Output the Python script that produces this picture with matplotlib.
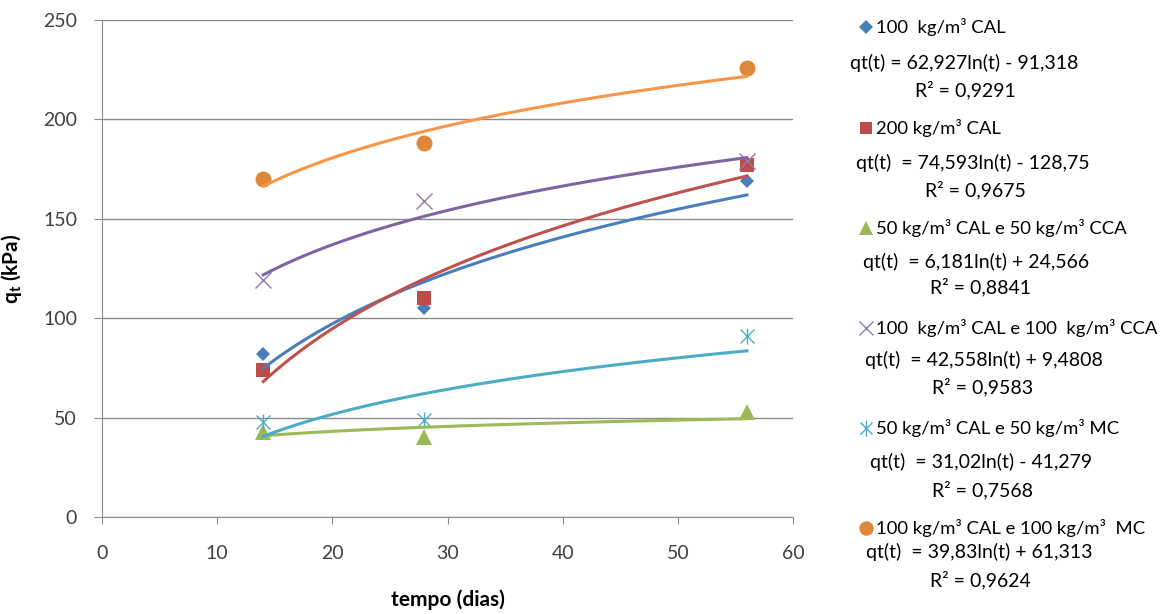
import numpy as np
import matplotlib
matplotlib.use("Agg")
import matplotlib.pyplot as plt

plt.rcParams['font.family'] = ['Lato', 'DejaVu Sans']
plt.rcParams['mathtext.default'] = 'regular'

# ---- dados: resistência q_t (kPa) por tempo de cura (dias)
dias = [14, 28, 56]

cal100 = [82, 105, 169]
cal200 = [74, 110, 177]
cal50_cca50 = [43, 40, 53]
cal100_cca100 = [119, 159, 179]
cal50_mc50 = [48, 49, 91]
cal100_mc100 = [170, 188, 226]

# coeficientes das linhas de tendência logarítmicas: q = a*ln(t) + b
coef_a = [62.927, 74.593, 6.181, 42.558, 31.02, 39.83]
coef_b = [-91.318, -128.75, 24.566, 9.4808, -41.279, 61.313]
r2 = ["0,9291", "0,9675", "0,8841", "0,9583", "0,7568", "0,9624"]

nomes = ["100  kg/m³ CAL",
         "200 kg/m³ CAL",
         "50 kg/m³ CAL e 50 kg/m³ CCA",
         "100  kg/m³ CAL e 100  kg/m³ CCA",
         "50 kg/m³ CAL e 50 kg/m³ MC",
         "100 kg/m³ CAL e 100 kg/m³  MC"]
equacoes = ["qt(t) = 62,927ln(t) - 91,318",
            "qt(t)  = 74,593ln(t) - 128,75",
            "qt(t)  = 6,181ln(t) + 24,566",
            "qt(t)  = 42,558ln(t) + 9,4808",
            "qt(t)  = 31,02ln(t) - 41,279",
            "qt(t)  = 39,83ln(t) + 61,313"]

series = [cal100, cal200, cal50_cca50, cal100_cca100, cal50_mc50, cal100_mc100]
cor_marc = ["#4A7EBB", "#BE4B48", "#98B954", "#8D7BAA", "#4BACC6", "#E0883A"]
cor_linha = ["#4A7EBB", "#C0504D", "#9BBB59", "#8064A2", "#4BACC6", "#F79646"]
marcadores = ["D", "s", "^", "x", "x", "o"]
tam = [7.5, 10, 11, 11, 10, 11.5]

fig = plt.figure(figsize=(11.71, 6.14), dpi=100)
ax = fig.add_axes([102 / 1171, 97 / 614, 691 / 1171, 497 / 614])

t = np.linspace(dias[0], dias[-1], 200)
for i, y in enumerate(series):
    mew = 1.0 if marcadores[i] == "x" else 0
    ax.plot(dias, y, linestyle="none", marker=marcadores[i], markersize=tam[i],
            color=cor_marc[i], markeredgewidth=mew, zorder=3)
    if i == 4:
        # asterisco: x + traço vertical
        ax.plot(dias, y, linestyle="none", marker="|", markersize=tam[i] + 2,
                color=cor_marc[i], markeredgewidth=1.0, zorder=3)
    ax.plot(t, coef_a[i] * np.log(t) + coef_b[i], color=cor_linha[i], lw=2.2, zorder=4)

ax.set_xlim(0, 60)
ax.set_ylim(0, 250)
ax.set_xticks(range(0, 61, 10))
ax.set_yticks(range(0, 251, 50))
ax.grid(axis="y", color="#8C8C8C", lw=1)
ax.set_axisbelow(True)
for s in ["top", "right"]:
    ax.spines[s].set_visible(False)
for s in ["left", "bottom"]:
    ax.spines[s].set_color("#8C8C8C")
ax.tick_params(axis="x", length=5, color="#8C8C8C", labelsize=14, pad=15,
               labelcolor="#404040")
ax.tick_params(axis="y", length=6, color="#8C8C8C", labelsize=14, pad=12,
               labelcolor="#404040")
ax.set_xlabel("tempo (dias)", fontsize=15, fontweight="bold", labelpad=20)
ax.set_ylabel("q$_t$ (kPa)", fontsize=15, fontweight="bold", labelpad=14)

# ---- legenda manual com equações
lg = fig.add_axes([820 / 1171, 0, 351 / 1171, 1])
lg.set_xlim(820, 1171)
lg.set_ylim(614, 0)
lg.axis("off")

y_nome = [27, 128, 228, 328, 428, 528]
y_eq = [63, 163, 262, 360, 462, 552]
y_r2 = [90, 190, 287, 387, 490, 580]
x_eq = [850, 856, 863, 865, 870, 866]
x_r2 = [915, 925, 930, 932, 932, 930]

for i in range(6):
    mew = 1.0 if marcadores[i] == "x" else 0
    lg.plot([866], [y_nome[i]], marker=marcadores[i], markersize=tam[i] * 0.9,
            color=cor_marc[i], markeredgewidth=mew, linestyle="none")
    if i == 4:
        lg.plot([866], [y_nome[i]], marker="|", markersize=tam[i] * 0.9 + 2,
                color=cor_marc[i], markeredgewidth=1.0, linestyle="none")
    lg.text(876, y_nome[i], nomes[i], fontsize=13.3, va="center", ha="left")
    lg.text(x_eq[i], y_eq[i], equacoes[i], fontsize=14, va="center", ha="left")
    lg.text(x_r2[i], y_r2[i], "R² = " + r2[i], fontsize=14, va="center", ha="left")

fig.savefig("out.png", dpi=100)
